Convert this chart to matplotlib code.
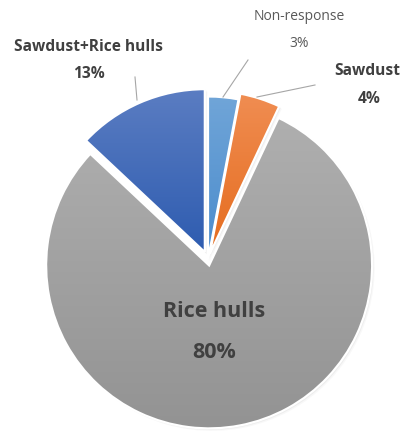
import numpy as np
import matplotlib
matplotlib.use("Agg")
import matplotlib.pyplot as plt
from matplotlib.patches import Wedge

labels = ["Non-response", "Sawdust", "Rice hulls", "Sawdust+Rice hulls"]
shares = [3, 4, 80, 13]
explode_px = [0, 6, 6, 8]
# top / bottom colour of each slice gradient
top_colors = ["#70a5d8", "#f08d52", "#afafaf", "#5b7dc2"]
bottom_colors = ["#4a8bcc", "#e56c1e", "#939393", "#2e5cb0"]

W, H = 403, 432
CX, CY = 208, 432 - 259.5
R = 163

plt.rcParams['font.family'] = ['Open Sans', 'DejaVu Sans']

fig = plt.figure(figsize=(W / 100, H / 100), dpi=100)
ax = fig.add_axes([0, 0, 1, 1])

# explode is in data units here (pixels)
wedges, _ = ax.pie(shares, center=(CX, CY), radius=R, startangle=90,
                   counterclock=False, explode=explode_px,
                   wedgeprops=dict(linewidth=0))

def hex2rgb(c):
    return np.array(matplotlib.colors.to_rgb(c))

for w, c0, c1 in zip(wedges, top_colors, bottom_colors):
    cx, cy = w.center
    # soft drop shadow
    for k, a in [(2.5, 0.05), (1.5, 0.08), (0.8, 0.12)]:
        sh = Wedge((cx + k, cy - k), w.r, w.theta1, w.theta2,
                   facecolor="#7f7f7f", edgecolor="none", alpha=a, zorder=1)
        ax.add_patch(sh)
    # vertical gradient clipped to the slice
    ext = w.get_path().get_extents(w.get_patch_transform())
    t = np.linspace(0, 1, 256)[:, None]
    img = (hex2rgb(c0)[None, :] * (1 - t) + hex2rgb(c1)[None, :] * t)
    img = np.repeat(img[:, None, :], 2, axis=1)
    im = ax.imshow(img, extent=[ext.x0, ext.x1, ext.y0, ext.y1],
                   origin="upper", aspect="auto", zorder=2,
                   interpolation="bilinear")
    w.set_facecolor("none")
    w.set_edgecolor("white")
    w.set_linewidth(1.6)
    w.set_zorder(3)
    im.set_clip_path(w)

# leader lines
line_col = "#a6a6a6"
ax.plot([223, 248], [H - 97, H - 60], color=line_col, lw=0.8, zorder=4)
ax.plot([257, 315], [H - 97, H - 85], color=line_col, lw=0.8, zorder=4)
ax.plot([137, 135], [H - 100, H - 77], color=line_col, lw=0.8, zorder=4)

dark = "#404040"
ax.text(299, H - 20, labels[0], ha="center", va="baseline", fontsize=10,
        color="#595959")
ax.text(299, H - 47, f"{shares[0]}%", ha="center", va="baseline",
        fontsize=10, color="#595959")
ax.text(367, H - 75, labels[1], ha="center", va="baseline", fontsize=11.2,
        fontweight="bold", color=dark)
ax.text(369, H - 103, f"{shares[1]}%", ha="center", va="baseline",
        fontsize=11.2, fontweight="bold", color=dark)
ax.text(88, H - 51, labels[3], ha="center", va="baseline", fontsize=11.2,
        fontweight="bold", color=dark)
ax.text(89, H - 78, f"{shares[3]}%", ha="center", va="baseline",
        fontsize=11.2, fontweight="bold", color=dark)
ax.text(214, H - 317, labels[2], ha="center", va="baseline", fontsize=15.5,
        fontweight="bold", color=dark, zorder=5)
ax.text(214, H - 358, f"{shares[2]}%", ha="center", va="baseline",
        fontsize=15.5, fontweight="bold", color=dark, zorder=5)

ax.set_xlim(0, W)
ax.set_ylim(0, H)
ax.axis("off")

fig.savefig("out.png", dpi=100, facecolor="white")
